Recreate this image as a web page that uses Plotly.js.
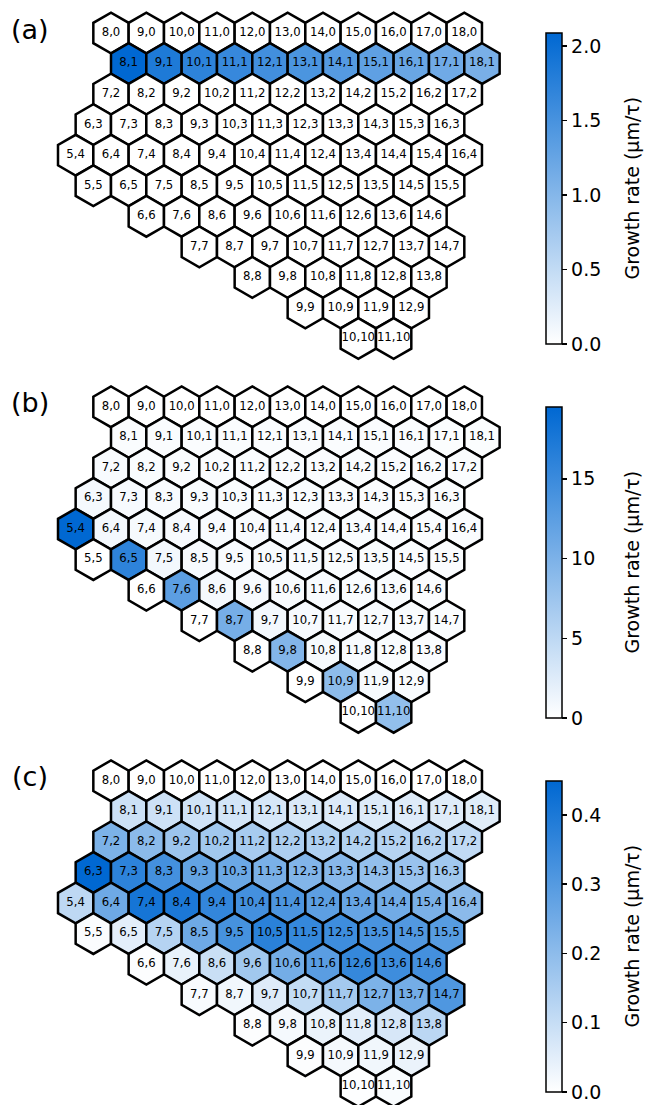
<!DOCTYPE html>
<html><head><meta charset="utf-8">
<script src="https://cdn.plot.ly/plotly-3.0.1.min.js"></script>
<style>html,body{margin:0;padding:0;background:#fff}#chart{width:645px;height:1105px}</style>
</head><body><div id="chart"></div>
<script>
// Hex grid rows: cell (i,j), row j runs from rowFirstI[j] to rowLastI[j]
const rowFirstI = [8, 8, 7, 6, 5, 5, 6, 7, 8, 9, 10];
const rowLastI  = [18, 18, 17, 16, 16, 15, 14, 14, 13, 12, 11];

// Panel (a) growth rate (µm/τ), one array per row
const growthA = [
  [0,0,0,0,0,0,0,0,0,0,0],
  [2.087,1.84,1.72,1.64,1.55,1.47,1.39,1.31,1.23,1.17,1.10],
  [0,0,0,0,0,0,0,0,0,0,0],
  [0,0,0,0,0,0,0,0,0,0,0],
  [0,0,0,0,0,0,0,0,0,0,0,0],
  [0,0,0,0,0,0,0,0,0,0,0],
  [0,0,0,0,0,0,0,0,0],
  [0,0,0,0,0,0,0,0],
  [0,0,0,0,0,0],
  [0,0,0,0],
  [0,0]
];
// Panel (b)
const growthB = [
  [0,0,0,0,0,0,0,0,0,0,0],
  [0.35,0.35,0.35,0.35,0.35,0.35,0.35,0.35,0.35,0.3,0.3],
  [0.5,0.45,0.4,0.4,0.4,0.4,0.4,0.4,0.4,0.4,0.35],
  [0.8,0.6,0.5,0.45,0.45,0.45,0.45,0.4,0.4,0.4,0.35],
  [19.5,0.9,0.7,0.6,0.5,0.5,0.5,0.45,0.45,0.4,0.4,0.35],
  [0,16.0,0.9,0.6,0.5,0.5,0.5,0.45,0.45,0.4,0.4],
  [0,12.5,0.8,0.6,0.5,0.5,0.45,0.45,0.4],
  [0,10.5,0.9,0.6,0.5,0.5,0.45,0.4],
  [0,9.5,0.7,0.5,0.45,0.4],
  [0,8.7,0.7,0.5],
  [0,8.3]
];
// Panel (c)
const growthC = [
  [0,0,0,0,0,0,0,0,0,0,0],
  [0.09,0.088,0.082,0.078,0.072,0.065,0.062,0.06,0.058,0.056,0.055],
  [0.23,0.205,0.175,0.165,0.155,0.145,0.14,0.135,0.13,0.125,0.11],
  [0.449,0.37,0.33,0.275,0.26,0.235,0.22,0.21,0.19,0.18,0.165],
  [0.115,0.255,0.41,0.40,0.36,0.33,0.315,0.285,0.27,0.25,0.235,0.205],
  [0.008,0.05,0.13,0.255,0.325,0.375,0.355,0.34,0.32,0.305,0.295],
  [0.005,0.04,0.095,0.165,0.245,0.29,0.355,0.34,0.33],
  [0.012,0.025,0.058,0.105,0.16,0.23,0.245,0.31],
  [0.005,0.017,0.035,0.05,0.07,0.12],
  [0.005,0.018,0.025,0.035],
  [0.004,0.01]
];

const panelLabels = ['(a)', '(b)', '(c)'];
const colorbarMax = [2.087, 19.5, 0.449];
const colorbarTicks = [[0, 0.5, 1.0, 1.5, 2.0], [0, 5, 10, 15], [0, 0.1, 0.2, 0.3, 0.4]];
const colorbarTickFormat = ['.1f', 'd', '.1f'];
const colorbarTitle = 'Growth rate (μm/τ)';

// ---- layout geometry (pixels) ----
const W = 645, H = 1105;
const XPX0 = 111, XSTEP = 35.33, YSTEP = 30.55;
const HEX_R = XSTEP / Math.sqrt(3);
const panelTop = [33, 406.8, 780.8];
const cbTop = [33, 407, 781];
const cbLen = 311;
const FONT = 'DejaVu Sans, Liberation Sans, sans-serif';
const colorscale = [[0, 'rgb(255,255,255)'], [1, 'rgb(0,104,210)']];

const allGrowth = [growthA, growthB, growthC];
const traces = [];
const layout = {
  width: W, height: H,
  margin: {l: 0, r: 0, t: 0, b: 0},
  paper_bgcolor: 'white', plot_bgcolor: 'white',
  showlegend: false,
  hovermode: false,
  annotations: []
};

const u0 = 5, u1 = 20;
const xDom = [(XPX0 + (u0 - 8) * XSTEP) / W, (XPX0 + (u1 - 8) * XSTEP) / W];

allGrowth.forEach((grid, p) => {
  const xs = [], ys = [], vals = [], txt = [];
  grid.forEach((row, j) => {
    for (let i = rowFirstI[j]; i <= rowLastI[j]; i++) {
      xs.push(i + j / 2);
      ys.push(j);
      vals.push(row[i - rowFirstI[j]]);
      txt.push(i + ',' + j);
    }
  });
  const sfx = p === 0 ? '' : String(p + 1);
  traces.push({
    type: 'scatter', mode: 'markers+text',
    x: xs, y: ys, text: txt,
    xaxis: 'x' + sfx, yaxis: 'y' + sfx,
    cliponaxis: false,
    textposition: 'middle center',
    textfont: {family: FONT, size: 11.7, color: 'black'},
    marker: {
      symbol: 'hexagon', size: 2 * HEX_R,
      color: vals, cmin: 0, cmax: colorbarMax[p],
      colorscale: colorscale, showscale: true,
      line: {color: 'black', width: 2.5},
      colorbar: {
        x: 546 / W, xanchor: 'left', xpad: 0,
        y: 1 - cbTop[p] / H, yanchor: 'top', ypad: 0,
        len: cbLen, lenmode: 'pixels',
        thickness: 16, thicknessmode: 'pixels',
        outlinewidth: 1.5, outlinecolor: 'black', borderwidth: 0,
        ticks: 'outside', ticklen: 5, tickwidth: 1.5, tickcolor: 'black',
        tickvals: colorbarTicks[p], tickformat: colorbarTickFormat[p],
        tickprefix: ' ',
        tickfont: {family: FONT, size: 19, color: 'black'}
      }
    },
    hoverinfo: 'skip'
  });
  const y0 = panelTop[p];
  const vb = Math.min(11, (H - 1 - y0) / YSTEP);
  const topPx = y0 - YSTEP, botPx = y0 + vb * YSTEP;
  layout['xaxis' + sfx] = {domain: xDom, range: [u0, u1], visible: false, fixedrange: true, anchor: 'y' + sfx};
  layout['yaxis' + sfx] = {domain: [1 - botPx / H, 1 - topPx / H], range: [vb, -1], visible: false, fixedrange: true, anchor: 'x' + sfx};
  layout.annotations.push({
    xref: 'paper', yref: 'paper', x: 30 / W, y: 1 - (y0 - 4) / H,
    xanchor: 'center', yanchor: 'middle', showarrow: false,
    text: panelLabels[p], font: {family: FONT, size: 27, color: 'black'}
  });
  layout.annotations.push({
    xref: 'paper', yref: 'paper', x: 631 / W, y: 1 - (cbTop[p] + cbLen / 2) / H,
    xanchor: 'center', yanchor: 'middle', showarrow: false, textangle: -90,
    text: colorbarTitle, font: {family: FONT, size: 19, color: 'black'}
  });
});

Plotly.newPlot('chart', traces, layout, {staticPlot: true, displayModeBar: false});
</script>
</body></html>
